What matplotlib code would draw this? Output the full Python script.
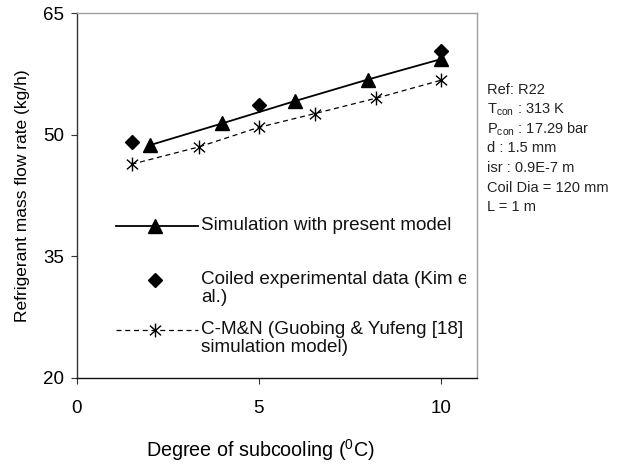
import numpy as np
import matplotlib
matplotlib.use("Agg")
import matplotlib.pyplot as plt
from matplotlib.path import Path
from matplotlib.lines import Line2D
from matplotlib.patches import Rectangle

plt.rcParams['font.family'] = ['Liberation Sans', 'DejaVu Sans']
plt.rcParams['mathtext.fontset'] = 'custom'
plt.rcParams['mathtext.rm'] = 'Liberation Sans'
plt.rcParams['mathtext.it'] = 'Liberation Sans:italic'

# data
sim_x = [2, 4, 6, 8, 10]
sim_y = [48.7, 51.4, 54.15, 56.8, 59.3]
exp_x = [1.5, 5, 10]
exp_y = [49.1, 53.6, 60.3]
cmn_x = [1.5, 3.36, 5, 6.54, 8.23, 10]
cmn_y = [46.35, 48.5, 50.9, 52.6, 54.5, 56.7]

legend_labels = ["Simulation with present model",
                 ["Coiled experimental data (Kim et", "al.)"],
                 ["C-M&N (Guobing & Yufeng [18]", "simulation model)"]]
notes = ["Ref: R22",
         r"T$_{\mathrm{con}}$ : 313 K",
         r"P$_{\mathrm{con}}$ : 17.29 bar",
         "d : 1.5 mm",
         "isr : 0.9E-7 m",
         "Coil Dia = 120 mm",
         "L = 1 m"]

# asterisk marker (X with a vertical bar)
star = Path([(-0.8, -0.7), (0.8, 0.7), (-0.8, 0.7), (0.8, -0.7), (0, -1), (0, 1)],
            [Path.MOVETO, Path.LINETO, Path.MOVETO, Path.LINETO, Path.MOVETO, Path.LINETO])

W, H = 623, 471
fig = plt.figure(figsize=(W / 100, H / 100), dpi=100)
L, R, T, B = 77, 477, 13, 378
ax = fig.add_axes([L / W, 1 - B / H, (R - L) / W, (B - T) / H])

ax.plot(sim_x, sim_y, color='black', lw=1.3, marker='^', ms=10, zorder=3)
ax.plot(exp_x, exp_y, ls='none', color='black', marker='D', ms=7, zorder=4)
ax.plot(cmn_x, cmn_y, color='black', lw=0.9, ls=(0, (4, 3)), marker=star, ms=10,
        mew=1.0, mfc='none', zorder=3)

ax.set_xlim(0, 11)
ax.set_ylim(20, 65)
ax.set_xticks([0, 5, 10])
ax.set_yticks([20, 35, 50, 65])
ax.tick_params(axis='both', labelsize=13.5, direction='out', length=4, width=0.8, color='#333333')
ax.tick_params(axis='x', pad=12)
ax.tick_params(axis='y', pad=5)

for s in ['top', 'right']:
    ax.spines[s].set_color('#a0a0a0')
    ax.spines[s].set_linewidth(1.0)
ax.spines['left'].set_color('#333333')
ax.spines['bottom'].set_color('#111111')
ax.spines['left'].set_linewidth(1.0)
ax.spines['bottom'].set_linewidth(1.0)

ax.set_ylabel("Refrigerant mass flow rate (kg/h)", fontsize=12.5)
ax.yaxis.set_label_coords(-0.118, 0.5)
ax.set_xlabel(r"Degree of subcooling ($^{0}$C)", fontsize=14.2)
ax.xaxis.set_label_coords((260 - L) / (R - L), -(437 - B) / (B - T))

# manual legend inside the axes, clipped at the right like the original
def ax_y(py):
    return (B - py) / (B - T)

clip = Rectangle((0, 0), (466 - L) / (R - L), 1, transform=ax.transAxes)
x0, x1, xm, xt = [(p - L) / (R - L) for p in (116, 198, 155, 201)]

ax.add_line(Line2D([x0, x1], [ax_y(226)] * 2, color='black', lw=1.3, transform=ax.transAxes))
ax.add_line(Line2D([xm], [ax_y(226)], color='black', marker='^', ms=10, transform=ax.transAxes))
ax.add_line(Line2D([xm], [ax_y(280)], color='black', marker='D', ms=7, transform=ax.transAxes))
ax.add_line(Line2D([x0, x1], [ax_y(330)] * 2, color='black', lw=0.9, ls=(0, (4, 3)),
                   transform=ax.transAxes))
ax.add_line(Line2D([xm], [ax_y(330)], color='black', marker=star, ms=10, mew=1.0,
                   mfc='none', transform=ax.transAxes))

rows = [(legend_labels[0], 226), (legend_labels[1][0], 280), (legend_labels[1][1], 298),
        (legend_labels[2][0], 330), (legend_labels[2][1], 348)]
for txt, py in rows:
    t = ax.text(xt, ax_y(py), txt, transform=ax.transAxes, fontsize=13.6,
                va='center', ha='left', color='#111111', clip_on=True)
    t.set_clip_path(clip)

for i, n in enumerate(notes):
    fig.text(487 / W, 1 - (90 + i * 19.5) / H, n, fontsize=10.5, va='center', ha='left',
             color='#222222')

fig.savefig("out.png", dpi=100)
